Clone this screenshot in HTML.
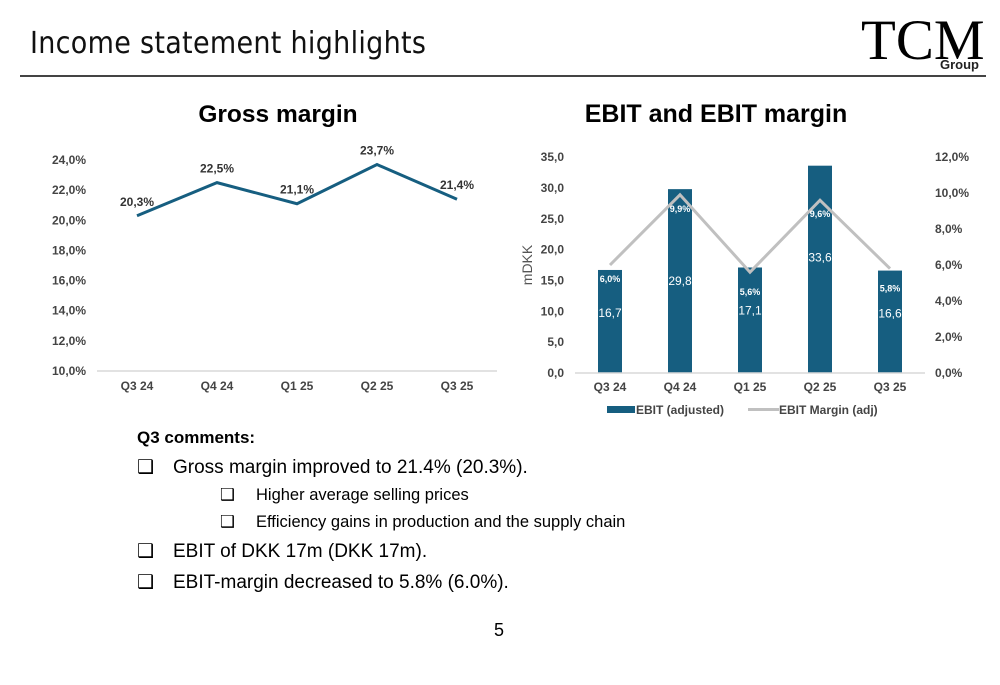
<!DOCTYPE html>
<html><head><meta charset="utf-8"><style>
body{margin:0;width:1000px;height:685px;background:#fff;font-family:"Liberation Sans",sans-serif;position:relative;overflow:hidden}
.abs{position:absolute}
.cm{font-size:19px;color:#000;line-height:22px}
.sub{font-size:16.5px;line-height:20px}
.box{font-family:"DejaVu Sans",sans-serif;display:inline-block;width:36px}
</style></head><body>
<div class="abs" style="left:30px;top:26px;font-family:'DejaVu Sans Condensed','DejaVu Sans',sans-serif;font-size:30px;letter-spacing:0.3px;color:#111">Income statement highlights</div>
<div class="abs" style="left:861px;top:12px;font-family:'Liberation Serif',serif;font-size:57px;line-height:57px;color:#000">TCM</div>
<div class="abs" style="left:940px;top:57px;font-size:13px;font-weight:bold;color:#222">Group</div>
<div class="abs" style="left:20px;top:75px;width:966px;height:2px;background:#444"></div>

<svg class="abs" style="left:0;top:0" width="1000" height="430" id="svg"></svg>

<div class="abs" style="left:137px;top:428px;font-size:17px;font-weight:bold">Q3 comments:</div>
<div class="abs cm" style="left:137px;top:456px"><span class="box">❑</span>Gross margin improved to 21.4% (20.3%).</div>
<div class="abs cm sub" style="left:220px;top:485px"><span class="box">❑</span>Higher average selling prices</div>
<div class="abs cm sub" style="left:220px;top:512px"><span class="box">❑</span>Efficiency gains in production and the supply chain</div>
<div class="abs cm" style="left:137px;top:540px"><span class="box">❑</span>EBIT of DKK 17m (DKK 17m).</div>
<div class="abs cm" style="left:137px;top:571px"><span class="box">❑</span>EBIT-margin decreased to 5.8% (6.0%).</div>
<div class="abs" style="left:494px;top:620px;font-size:18px">5</div>

<script>
const categories=["Q3 24","Q4 24","Q1 25","Q2 25","Q3 25"];
const grossMargin=[20.3,22.5,21.1,23.7,21.4];
const grossTicks=[10,12,14,16,18,20,22,24];
const ebit=[16.7,29.8,17.1,33.6,16.6];
const ebitMargin=[6.0,9.9,5.6,9.6,5.8];
const ebitTicks=[0,5,10,15,20,25,30,35];
const marginTicks=[0,2,4,6,8,10,12];

const svg=document.getElementById('svg');
const NS='http://www.w3.org/2000/svg';
function mk(tag,attrs,text){const e=document.createElementNS(NS,tag);for(const k in attrs)e.setAttribute(k,attrs[k]);if(text!==undefined)e.textContent=text;svg.appendChild(e);return e;}
const fmt=(v,d)=>v.toFixed(d).replace('.',',');

// Gross margin chart
const gx=i=>137+i*80, gy=v=>371-(v-10)*15.07;
let t=mk('text',{x:278,y:122,'text-anchor':'middle','font-size':24.5,'font-weight':'bold',fill:'#000'},'Gross margin');

let ax=mk('line',{x1:97,x2:497,y1:371,y2:371,stroke:'#d9d9d9','stroke-width':1.5});

grossTicks.forEach(v=>{const e=mk('text',{x:86,y:gy(v)+4,'text-anchor':'end','font-size':12,'font-weight':'bold',fill:'#444'},fmt(v,1)+'%');
});
categories.forEach((c,i)=>{const e=mk('text',{x:gx(i),y:390,'text-anchor':'middle','font-size':12,'font-weight':'bold',fill:'#444'},c);
});
let gl=mk('polyline',{points:grossMargin.map((v,i)=>gx(i)+','+gy(v)).join(' '),fill:'none',stroke:'#165e80','stroke-width':3});

grossMargin.forEach((v,i)=>{const e=mk('text',{x:gx(i),y:gy(v)-10,'text-anchor':'middle','font-size':12,'font-weight':'bold',fill:'#333'},fmt(v,1)+'%');
});

// EBIT chart
const ex=i=>610+i*70, ey=v=>373-v*6.17, my=v=>373-v*18;
t=mk('text',{x:716,y:122,'text-anchor':'middle','font-size':25,'font-weight':'bold',fill:'#000'},'EBIT and EBIT margin');

ebitTicks.forEach(v=>{const e=mk('text',{x:564,y:ey(v)+4,'text-anchor':'end','font-size':12,'font-weight':'bold',fill:'#444'},fmt(v,1));
});
marginTicks.forEach(v=>{const e=mk('text',{x:935,y:my(v)+4,'text-anchor':'start','font-size':12,'font-weight':'bold',fill:'#444'},fmt(v,1)+'%');
});
t=mk('text',{x:0,y:0,'font-size':14,fill:'#555',transform:'translate(532,265) rotate(-90)','text-anchor':'middle'},'mDKK');

ebit.forEach((v,i)=>{const b=mk('rect',{x:ex(i)-12,y:ey(v),width:24,height:373-ey(v),fill:'#165e80'});
});
ax=mk('line',{x1:575,x2:925,y1:373,y2:373,stroke:'#d9d9d9','stroke-width':1.5});

let ml=mk('polyline',{points:ebitMargin.map((v,i)=>ex(i)+','+my(v)).join(' '),fill:'none',stroke:'#c0c0c0','stroke-width':3});

ebit.forEach((v,i)=>{const big=v>25;const e=mk('text',{x:ex(i),y:big?ey(v)+96:ey(v)+47,'text-anchor':'middle','font-size':12,fill:'#fff'},fmt(v,1));
});
ebitMargin.forEach((v,i)=>{const e=mk('text',{x:ex(i),y:my(v)+(v>8?17:i==0?17:23),'text-anchor':'middle','font-size':9,'font-weight':'bold',fill:'#fff'},fmt(v,1)+'%');
});
categories.forEach((c,i)=>{const e=mk('text',{x:ex(i),y:391,'text-anchor':'middle','font-size':12,'font-weight':'bold',fill:'#444'},c);
});
let l=mk('rect',{x:607,y:406,width:28,height:7,fill:'#165e80'});
l=mk('text',{x:636,y:414,'font-size':12,'font-weight':'bold',fill:'#444'},'EBIT (adjusted)');
l=mk('line',{x1:748,x2:779,y1:409.5,y2:409.5,stroke:'#c0c0c0','stroke-width':3});
l=mk('text',{x:779,y:414,'font-size':12,'font-weight':'bold',fill:'#444'},'EBIT Margin (adj)');
</script>
</body></html>
